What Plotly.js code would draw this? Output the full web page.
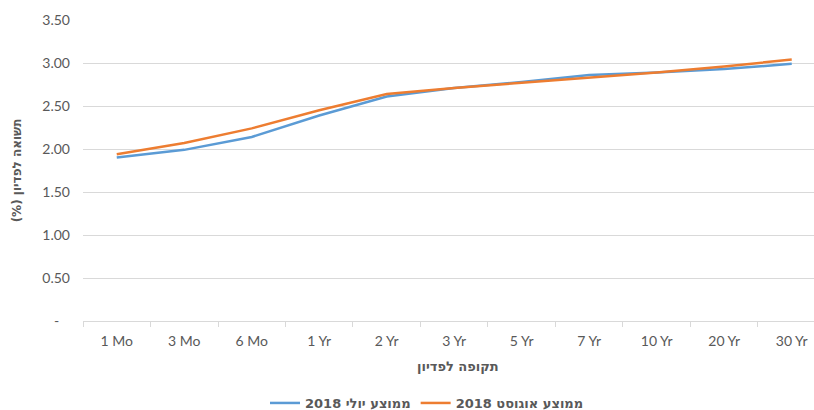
<!DOCTYPE html>
<html>
<head>
<meta charset="utf-8">
<script src="https://cdn.plot.ly/plotly-3.0.1.min.js"></script>
<style>
  html, body { margin: 0; padding: 0; background: #fff; }
  #chart { width: 814px; height: 410px; }
</style>
</head>
<body>
<div id="chart"></div>
<script>
// Treasury yield curve: monthly averages by maturity
const maturities = ['1 Mo', '3 Mo', '6 Mo', '1 Yr', '2 Yr', '3 Yr', '5 Yr', '7 Yr', '10 Yr', '20 Yr', '30 Yr'];
const julyAvg   = [1.90, 1.99, 2.14, 2.39, 2.61, 2.71, 2.78, 2.86, 2.89, 2.93, 2.99];
const augustAvg = [1.94, 2.07, 2.24, 2.45, 2.64, 2.71, 2.77, 2.83, 2.89, 2.96, 3.04];

const julyName   = 'ממוצע יולי 2018';
const augustName = 'ממוצע אוגוסט 2018';

const yTickVals = [0, 0.5, 1, 1.5, 2, 2.5, 3, 3.5];
const yTickText = ['-\u00a0\u00a0\u00a0', '0.50', '1.00', '1.50', '2.00', '2.50', '3.00', '3.50'];

// right-to-left mark so numbers and brackets sit on the RTL side of Hebrew labels
const RLM = '\u200F';
const hebrewFont = 'DejaVu Sans, Liberation Sans, sans-serif';
const tickFont = 'Lato, Liberation Sans, sans-serif';

const traces = [
  {
    x: maturities, y: julyAvg, name: julyName + RLM,
    type: 'scatter', mode: 'lines',
    line: { color: '#5B9BD5', width: 2.5 }
  },
  {
    x: maturities, y: augustAvg, name: augustName + RLM,
    type: 'scatter', mode: 'lines',
    line: { color: '#ED7D31', width: 2.5 }
  }
];

const layout = {
  width: 814, height: 410,
  margin: { l: 83, r: 0, t: 20, b: 89 },
  paper_bgcolor: '#ffffff',
  plot_bgcolor: '#ffffff',
  showlegend: true,
  xaxis: {
    type: 'category',
    range: [-0.5, 10.33],
    showgrid: false,
    showline: true, linecolor: '#d9d9d9', linewidth: 1,
    ticks: 'outside', tickson: 'boundaries', ticklen: 5, tickcolor: '#d9d9d9',
    tickfont: { family: tickFont, size: 14, color: '#595959' },
    ticklabelstandoff: 7,
    zeroline: false
  },
  yaxis: {
    range: [0, 3.5],
    tickvals: yTickVals, ticktext: yTickText,
    showgrid: true, gridcolor: '#d9d9d9', gridwidth: 1,
    showline: false, zeroline: false,
    tickfont: { family: tickFont, size: 14, color: '#595959' },
    ticklabelstandoff: 12,
    title: {
      text: 'תשואה לפדיון (%)' + RLM,
      font: { family: hebrewFont, size: 12, color: '#595959', weight: 'bold' },
      standoff: 18
    }
  },
  annotations: [
    {
      text: 'תקופה לפדיון',
      xref: 'paper', yref: 'paper',
      x: (415 - 83) / 731, y: -(367 - 321) / 301,
      xanchor: 'left', yanchor: 'middle', align: 'left',
      showarrow: false,
      font: { family: hebrewFont, size: 13, color: '#595959', weight: 'bold' }
    }
  ],
  legend: {
    orientation: 'h',
    x: (427 - 83) / 731, xanchor: 'center',
    yref: 'container',
    y: (410 - 403) / 410, yanchor: 'middle',
    font: { family: hebrewFont, size: 13, color: '#595959', weight: 'bold' },
    bgcolor: 'rgba(0,0,0,0)'
  }
};

Plotly.newPlot('chart', traces, layout, { displayModeBar: false, staticPlot: true });
</script>
</body>
</html>
